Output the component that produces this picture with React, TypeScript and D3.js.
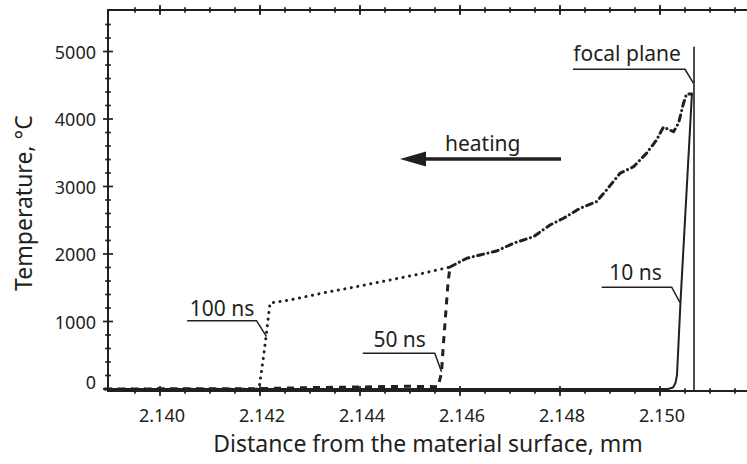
import * as d3 from "d3";

// ---- data ----
const xMajor = [2.14, 2.142, 2.144, 2.146, 2.148, 2.15];
const yMajor = [0, 1000, 2000, 3000, 4000, 5000];

// 10 ns, solid
const t10x = [2.1389, 2.15016, 2.15026, 2.15031, 2.15034, 2.15041, 2.15064];
const t10y = [0, 0, 22, 90, 207, 1290, 4390];

// 100 ns, dotted (lower part)
const t100x = [2.1389, 2.14198, 2.14207, 2.14213, 2.1422, 2.1426, 2.14326, 2.14393, 2.1446, 2.1452, 2.1458];
const t100y = [0, 0, 474, 830, 1274, 1319, 1422, 1516, 1615, 1704, 1807];

// 50 ns, dashed (lower part)
const t50x = [2.1389, 2.142, 2.143, 2.144, 2.145, 2.14556, 2.14563, 2.14566, 2.14576, 2.1458];
const t50y = [0, 5, 20, 30, 40, 34, 237, 578, 1570, 1807];

// common upper part of 50 ns and 100 ns (the two overlap -> dash-dot look)
const upperX = [2.1458, 2.14613, 2.1464, 2.14673, 2.14707, 2.14747, 2.1478, 2.14807, 2.1484, 2.14873, 2.14893, 2.1492, 2.14947, 2.14973, 2.14993, 2.15007, 2.15027, 2.15037, 2.15047, 2.15053, 2.15062];
const upperY = [1807, 1936, 1985, 2044, 2159, 2256, 2430, 2529, 2677, 2775, 2948, 3196, 3293, 3492, 3689, 3881, 3812, 3936, 4233, 4370, 4370];

const focalX = 2.15068;
const focalTop = 5071;

// labels: text, anchor point on the curve (data units), leader shape in px
const callouts = [
  { text: "10 ns", x: 2.1504, y: 1279, dx: -8.3, dy: -15.4, len: 70, tx: 7.6, ty: -7.3 },
  { text: "50 ns", x: 2.14563, y: 256, dx: -6.7, dy: -18.4, len: 72, tx: 10.6, ty: -6 },
  { text: "100 ns", x: 2.14213, y: 775, dx: -10, dy: -16, len: 69.4, tx: 2.7, ty: -4.7 },
  { text: "focal plane", x: 2.15067, y: 4529, dx: -8.5, dy: -14, len: 112, tx: 0.3, ty: -8.3 },
];

const W = 747;
const H = 464;
const ink = "#231f20";
const font = "'Noto Sans', sans-serif";

const zip = (xs: number[], ys: number[]) => xs.map((x, i) => [x, ys[i]] as [number, number]);

export default function App() {
  const x = d3.scaleLinear().domain([2.13896, 2.15174]).range([108, W]);
  const y = d3.scaleLinear().domain([-30, 5615]).range([391, 10]);

  const line = d3
    .line<[number, number]>()
    .x((d) => x(d[0]))
    .y((d) => y(d[1]));

  const minorX = d3.range(2.1395, 2.152, 0.0005).filter((v) => x(v) > 112 && x(v) < W);
  const minorY = d3.range(200, 5600, 200).filter((v) => v % 1000 !== 0);

  const [x0, x1] = x.range();
  const [yb, yt] = y.range();

  const d100 = zip(t100x, t100y);
  const d50 = zip(t50x, t50y);
  const dUp = zip(upperX, upperY);
  const d10 = zip(t10x, t10y);

  return (
    <svg width={W} height={H} style={{ position: "absolute", left: 0, top: 0, background: "#fff" }}>
      {/* axes frame */}
      <g stroke={ink} strokeWidth={2} fill="none">
        <line x1={x0} x2={x1} y1={yb} y2={yb} />
        <line x1={x0} x2={x1} y1={yt} y2={yt} />
        <line x1={x0} x2={x0} y1={yt - 1} y2={yb + 1} />
      </g>
      {/* ticks crossing the axis */}
      <g stroke={ink} strokeWidth={1.7}>
        {xMajor.map((v) => (
          <g key={"xm" + v}>
            <line x1={x(v)} x2={x(v)} y1={yb - 5} y2={yb + 5} />
            <line x1={x(v)} x2={x(v)} y1={yt - 5} y2={yt + 5} />
          </g>
        ))}
        {minorX.map((v) => (
          <g key={"xn" + v}>
            <line x1={x(v)} x2={x(v)} y1={yb - 2.8} y2={yb + 2.8} />
            <line x1={x(v)} x2={x(v)} y1={yt - 2.8} y2={yt + 2.8} />
          </g>
        ))}
        {yMajor.map((v) => (
          <line key={"ym" + v} x1={x0 - 5} x2={x0 + 5} y1={y(v)} y2={y(v)} />
        ))}
        {minorY.map((v) => (
          <line key={"yn" + v} x1={x0 - 2.8} x2={x0 + 2.8} y1={y(v)} y2={y(v)} />
        ))}
      </g>
      {/* tick labels */}
      <g fontFamily={font} fontSize={18} fill={ink}>
        {xMajor.map((v) => (
          <text key={"xl" + v} x={x(v) + 2} y={422} textAnchor="middle">
            {d3.format(".3f")(v)}
          </text>
        ))}
        {yMajor.map((v) => (
          <text key={"yl" + v} x={96} y={y(v) + (v === 0 ? -6 : 1)} dy="0.35em" textAnchor="end">
            {v}
          </text>
        ))}
      </g>
      {/* axis titles */}
      <text x={428} y={452} textAnchor="middle" fontFamily={font} fontSize={23} fill={ink}>
        Distance from the material surface, mm
      </text>
      <text
        transform={`translate(32,203) rotate(-90)`}
        textAnchor="middle"
        fontFamily={font}
        fontSize={23}
        fill={ink}
      >
        Temperature, °C
      </text>

      {/* focal plane */}
      <line x1={x(focalX)} x2={x(focalX)} y1={y(focalTop)} y2={yb} stroke={ink} strokeWidth={1.6} />

      {/* curves */}
      <path d={line(d10) ?? ""} fill="none" stroke={ink} strokeWidth={2} strokeLinejoin="round" />
      <path d={line(d50) ?? ""} fill="none" stroke={ink} strokeWidth={3} strokeDasharray="7 6" />
      <path
        d={line(d100) ?? ""}
        fill="none"
        stroke={ink}
        strokeWidth={3}
        strokeLinecap="round"
        strokeDasharray="0.1 6.5"
      />
      <path
        d={line(dUp) ?? ""}
        fill="none"
        stroke={ink}
        strokeWidth={3}
        strokeLinecap="round"
        strokeDasharray="6 4.5 0.1 4.5"
      />

      {/* callouts */}
      <g fontFamily={font} fontSize={21} fill={ink}>
        {callouts.map((c) => {
          const ax = x(c.x);
          const ay = y(c.y);
          const kx = ax + c.dx;
          const ky = ay + c.dy;
          const lx = kx - c.len;
          return (
            <g key={c.text}>
              <polyline
                points={`${ax},${ay} ${kx},${ky} ${lx},${ky}`}
                fill="none"
                stroke={ink}
                strokeWidth={1.5}
              />
              <text x={lx + c.tx} y={ky + c.ty}>
                {c.text}
              </text>
            </g>
          );
        })}
      </g>

      {/* heating arrow */}
      <text x={445} y={151} fontFamily={font} fontSize={21} fill={ink}>
        heating
      </text>
      <line x1={561} x2={420} y1={159} y2={159} stroke={ink} strokeWidth={3.5} />
      <polygon points="400,159 426,151.5 426,166.5" fill={ink} />
    </svg>
  );
}
